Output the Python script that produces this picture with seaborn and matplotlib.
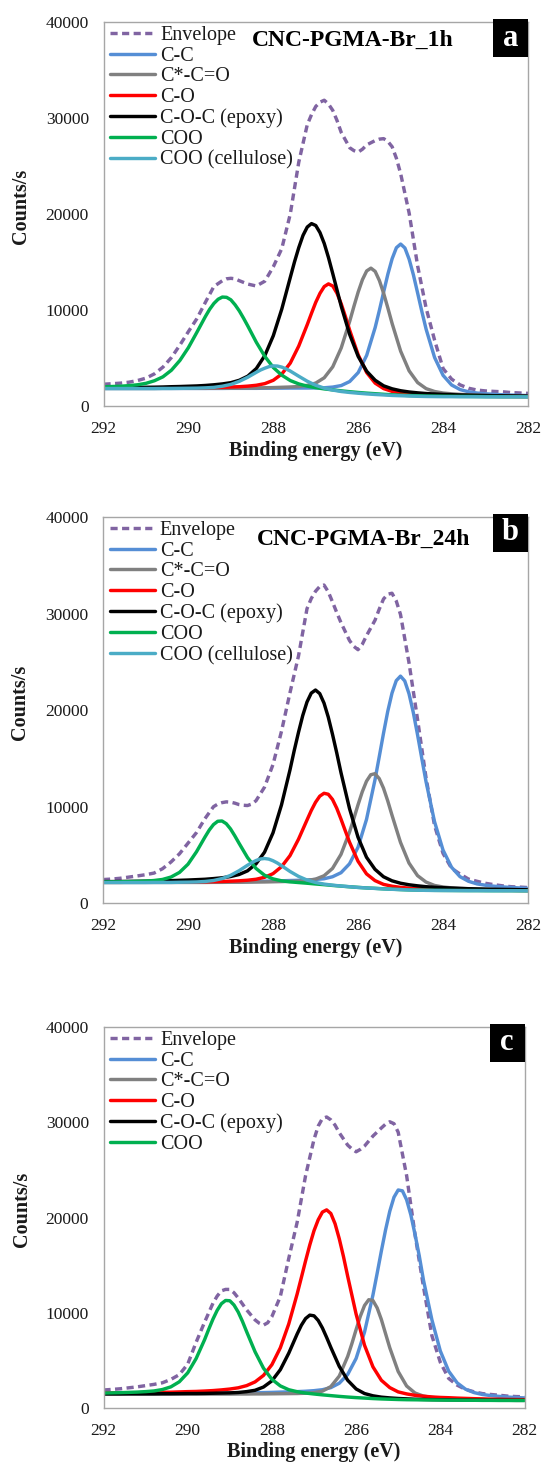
import matplotlib
matplotlib.use("Agg")
import matplotlib.pyplot as plt
from matplotlib.patches import Rectangle
import pandas as pd
import seaborn as sns

# ---------------- data (binding energy grid, eV) ----------------
ENERGY = [292.0, 291.8, 291.6, 291.4, 291.2, 291.0, 290.8, 290.6, 290.4, 290.2,
          290.0, 289.8, 289.6, 289.4, 289.2, 289.0, 288.8, 288.6, 288.4, 288.2,
          288.0, 287.8, 287.6, 287.4, 287.2, 287.0, 286.8, 286.6, 286.4, 286.2,
          286.0, 285.8, 285.6, 285.4, 285.2, 285.0, 284.8, 284.6, 284.4, 284.2,
          284.0, 283.8, 283.6, 283.4, 283.2, 283.0, 282.8, 282.6, 282.4, 282.2,
          282.0]

LABELS = ["Envelope", "C-C", "C*-C=O", "C-O", "C-O-C (epoxy)", "COO", "COO (cellulose)"]
X_TICKS = [292, 290, 288, 286, 284, 282]
Y_TICKS = [0, 10000, 20000, 30000, 40000]
TITLES = ["CNC-PGMA-Br_1h", "CNC-PGMA-Br_24h", ""]
LETTERS = ["a", "b", "c"]

# ---- panel a : CNC-PGMA-Br_1h ----
A_ENV = [2270, 2320, 2380, 2480, 2650, 2900, 3350, 4050, 5050, 6350,
         7750, 9100, 10800, 12450, 13050, 13300, 13050, 12700, 12500, 13000,
         14500, 16400, 20000, 25400, 29300, 31200, 31850, 30800, 28500, 26900,
         26450, 27200, 27650, 27850, 27000, 24200, 20100, 14600, 10200, 6850,
         3900, 2800, 2200, 1850, 1660, 1570, 1520, 1480, 1400, 1360, 1320]
A_CC = [1830, 1830, 1830, 1830, 1830, 1830, 1830, 1830, 1830, 1830,
        1830, 1830, 1830, 1830, 1830, 1840, 1840, 1840, 1840, 1850,
        1860, 1860, 1870, 1870, 1870, 1880, 1900, 1970, 2130, 2550,
        3480, 5280, 8180, 11890, 15350, 16870, 15290, 11770, 8000, 5050,
        3190, 2190, 1710, 1480, 1350, 1270, 1220, 1170, 1140, 1110, 1090]
A_CCO = [1830, 1830, 1830, 1830, 1830, 1830, 1830, 1840, 1840, 1840,
         1840, 1840, 1840, 1850, 1850, 1860, 1860, 1870, 1880, 1900,
         1920, 1950, 1980, 2030, 2150, 2390, 2940, 4080, 6050, 8830,
         11880, 14070, 14020, 11730, 8580, 5710, 3660, 2440, 1810, 1510,
         1350, 1270, 1210, 1170, 1130, 1100, 1080, 1060, 1040, 1030, 1020]
A_CO = [1850, 1850, 1850, 1850, 1850, 1860, 1860, 1870, 1870, 1880,
        1890, 1900, 1910, 1930, 1950, 1980, 2010, 2070, 2160, 2330,
        2680, 3330, 4470, 6250, 8480, 10800, 12440, 12500, 10640, 7880,
        5330, 3480, 2380, 1810, 1520, 1370, 1280, 1210, 1160, 1120,
        1090, 1070, 1050, 1040, 1020, 1010, 1000, 990, 990, 980, 980]
A_COC = [1910, 1920, 1920, 1930, 1940, 1950, 1960, 1980, 2010, 2030,
         2060, 2090, 2140, 2210, 2300, 2430, 2680, 3110, 3900, 5250,
         7320, 10100, 13390, 16500, 18640, 18800, 16930, 13800, 10390, 7440,
         5160, 3620, 2680, 2100, 1790, 1590, 1460, 1370, 1300, 1250,
         1210, 1180, 1150, 1130, 1110, 1090, 1070, 1060, 1050, 1040, 1030]
A_COO = [2000, 2030, 2060, 2120, 2210, 2360, 2630, 3040, 3730, 4750,
         6080, 7680, 9320, 10680, 11350, 11060, 9900, 8330, 6640, 5170,
         4010, 3210, 2650, 2300, 2070, 1910, 1780, 1680, 1580, 1490,
         1410, 1340, 1280, 1220, 1170, 1130, 1090, 1070, 1040, 1030,
         1020, 1010, 1000, 1000, 990, 980, 980, 970, 970, 970, 960]
A_COO_CELL = [1820, 1820, 1820, 1820, 1820, 1820, 1820, 1830, 1830, 1840,
              1850, 1860, 1890, 1940, 2060, 2250, 2570, 3000, 3510, 3940,
              4180, 4050, 3640, 3100, 2580, 2160, 1860, 1660, 1510, 1410,
              1330, 1260, 1200, 1150, 1100, 1070, 1040, 1010, 990, 980,
              970, 970, 965, 960, 960, 950, 950, 950, 950, 950, 940]
# extra readings taken at the odd tenths around each maximum
A_FINE = {
    "Envelope": ([289.1, 288.9, 287.1, 286.9, 286.7, 286.5, 286.1, 285.9, 285.5, 285.3, 285.1],
                 [13250, 13250, 30350, 31650, 31450, 29750, 26600, 26750, 27800, 27550, 25800]),
    "C-C": ([285.5, 285.3, 285.1, 284.9, 284.7, 284.5],
            [9980, 13750, 16490, 16460, 13670, 9830]),
    "C*-C=O": ([286.1, 285.9, 285.7, 285.5, 285.3],
               [10390, 13160, 14360, 13060, 10190]),
    "C-O": ([287.1, 286.9, 286.7, 286.5, 286.3],
            [9660, 11740, 12720, 11750, 9300]),
    "C-O-C (epoxy)": ([287.5, 287.3, 287.1, 286.9, 286.7],
                      [15020, 17770, 19000, 18060, 15460]),
    "COO": ([289.5, 289.3, 289.1, 288.9, 288.7],
            [10070, 11120, 11320, 10540, 9140]),
    "COO (cellulose)": ([288.3, 288.1, 287.9, 287.7],
                        [3750, 4100, 4160, 3870]),
}

# ---- panel b : CNC-PGMA-Br_24h ----
B_ENV = [2430, 2480, 2560, 2680, 2800, 2930, 3100, 3550, 4250, 5100,
         6200, 7300, 8750, 9980, 10400, 10450, 10200, 10100, 10600, 12000,
         14350, 17800, 21800, 25600, 30500, 32300, 32950, 31200, 29050, 27200,
         26250, 27700, 29300, 31500, 32100, 29900, 24900, 19060, 13000, 8050,
         5150, 3600, 3000, 2480, 2250, 2040, 1900, 1780, 1690, 1650, 1600]
B_CC = [2150, 2150, 2150, 2150, 2150, 2160, 2160, 2160, 2160, 2170,
        2170, 2180, 2180, 2190, 2190, 2200, 2210, 2220, 2240, 2260,
        2280, 2300, 2330, 2350, 2380, 2440, 2510, 2720, 3140, 4060,
        5770, 8660, 12770, 17580, 21750, 23510, 21690, 17460, 12590, 8440,
        5490, 3710, 2730, 2250, 1980, 1840, 1740, 1670, 1610, 1560, 1520]
B_CCO = [2130, 2130, 2130, 2130, 2130, 2130, 2130, 2130, 2130, 2130,
         2130, 2130, 2130, 2140, 2140, 2150, 2150, 2160, 2170, 2180,
         2200, 2220, 2240, 2270, 2330, 2470, 2820, 3580, 5040, 7340,
         10170, 12620, 13400, 11900, 9100, 6280, 4140, 2840, 2170, 1820,
         1660, 1570, 1520, 1480, 1440, 1420, 1400, 1380, 1360, 1350, 1340]
B_CO = [2140, 2140, 2140, 2150, 2150, 2150, 2150, 2160, 2160, 2170,
        2180, 2190, 2200, 2210, 2230, 2260, 2300, 2360, 2460, 2660,
        3040, 3760, 4910, 6610, 8600, 10430, 11370, 10730, 8690, 6310,
        4330, 3020, 2320, 1930, 1740, 1620, 1540, 1490, 1450, 1410,
        1390, 1370, 1360, 1350, 1340, 1330, 1320, 1310, 1310, 1300, 1290]
B_COC = [2220, 2220, 2230, 2240, 2250, 2260, 2280, 2300, 2320, 2350,
         2380, 2420, 2460, 2530, 2610, 2740, 2950, 3330, 4060, 5260,
         7270, 10170, 13800, 17690, 20830, 22070, 20720, 17480, 13500, 9790,
         6820, 4740, 3490, 2720, 2300, 2050, 1890, 1780, 1690, 1630,
         1590, 1550, 1510, 1480, 1460, 1440, 1420, 1410, 1400, 1380, 1370]
B_COO = [2180, 2190, 2200, 2220, 2240, 2270, 2330, 2440, 2690, 3170,
         4020, 5310, 6840, 8130, 8500, 7680, 6200, 4710, 3580, 2880,
         2500, 2300, 2190, 2120, 2050, 1970, 1900, 1820, 1750, 1680,
         1620, 1560, 1520, 1470, 1430, 1390, 1360, 1340, 1320, 1310,
         1300, 1300, 1290, 1290, 1290, 1280, 1280, 1280, 1280, 1270, 1270]
B_COO_CELL = [2120, 2120, 2120, 2120, 2120, 2120, 2130, 2130, 2130, 2150,
              2160, 2180, 2230, 2330, 2530, 2860, 3340, 3910, 4400, 4610,
              4380, 3870, 3270, 2760, 2380, 2130, 1960, 1850, 1760, 1690,
              1610, 1560, 1510, 1460, 1420, 1390, 1350, 1330, 1310, 1300,
              1300, 1290, 1290, 1280, 1280, 1280, 1270, 1270, 1270, 1270, 1260]
B_FINE = {
    "Envelope": ([289.3, 289.1, 288.9, 288.7, 288.5, 287.1, 286.9, 286.7, 286.5,
                  286.1, 285.9, 285.5, 285.3, 285.1],
                 [10250, 10480, 10350, 10130, 10250, 31550, 32800, 32250, 30100,
                  26600, 26800, 30450, 32000, 31300]),
    "C-C": ([285.5, 285.3, 285.1, 284.9, 284.7, 284.5],
            [15160, 19860, 23040, 23010, 19770, 15010]),
    "C*-C=O": ([286.1, 285.9, 285.7, 285.5, 285.3],
               [8720, 11520, 13290, 12890, 10580]),
    "C-O": ([287.1, 286.9, 286.7, 286.5, 286.3],
            [9580, 11070, 11270, 9820, 7490]),
    "C-O-C (epoxy)": ([287.5, 287.3, 287.1, 286.9, 286.7, 286.5],
                      [15810, 19430, 21750, 21700, 19270, 15550]),
    "COO": ([289.5, 289.3, 289.1, 288.9],
            [7560, 8470, 8220, 6970]),
    "COO (cellulose)": ([288.5, 288.3, 288.1, 287.9],
                        [4180, 4560, 4550, 4150]),
}

# ---- panel c ----
C_ENV = [1890, 1950, 2020, 2120, 2220, 2350, 2480, 2650, 3000, 3500,
         4600, 6900, 9000, 11000, 12300, 12450, 11550, 10300, 9250, 8700,
         9600, 11700, 15700, 19500, 24400, 28200, 30400, 30250, 28900, 27600,
         26900, 27500, 28550, 29400, 30050, 28950, 24400, 18200, 12740, 7600,
         4800, 3100, 2400, 1950, 1700, 1510, 1420, 1340, 1250, 1200, 1180]
C_CC = [1500, 1510, 1510, 1510, 1510, 1510, 1510, 1520, 1520, 1530,
        1530, 1530, 1540, 1540, 1550, 1560, 1570, 1590, 1600, 1620,
        1640, 1670, 1690, 1720, 1760, 1820, 1920, 2140, 2600, 3520,
        5200, 7970, 11860, 16480, 20660, 22890, 21860, 18220, 13430, 9270,
        5990, 3860, 2640, 1970, 1620, 1420, 1300, 1220, 1150, 1100, 1060]
C_CCO = [1470, 1470, 1470, 1470, 1460, 1460, 1460, 1460, 1460, 1460,
         1460, 1460, 1460, 1460, 1460, 1460, 1470, 1470, 1480, 1480,
         1490, 1500, 1510, 1520, 1550, 1610, 1770, 2250, 3350, 5410,
         8230, 10760, 11280, 9290, 6320, 3830, 2310, 1570, 1250, 1110,
         1030, 970, 940, 910, 890, 870, 860, 850, 830, 830, 820]
C_CO = [1570, 1580, 1580, 1590, 1600, 1620, 1630, 1650, 1660, 1690,
        1720, 1740, 1780, 1830, 1900, 1990, 2120, 2350, 2740, 3420,
        4550, 6320, 8820, 11970, 15450, 18610, 20570, 20420, 17770, 13830,
        9860, 6590, 4320, 2910, 2140, 1690, 1480, 1330, 1240, 1160,
        1110, 1080, 1040, 1010, 980, 960, 930, 920, 900, 890, 880]
C_COC = [1480, 1480, 1480, 1490, 1490, 1490, 1490, 1500, 1500, 1510,
         1520, 1520, 1530, 1550, 1570, 1590, 1630, 1720, 1860, 2200,
         2850, 4020, 5750, 7770, 9390, 9680, 8400, 6360, 4370, 2910,
         2000, 1520, 1280, 1140, 1060, 1000, 960, 920, 900, 880,
         870, 860, 850, 840, 830, 820, 820, 810, 810, 800, 800]
C_COO = [1570, 1590, 1610, 1640, 1670, 1720, 1790, 1940, 2220, 2750,
         3690, 5190, 7160, 9330, 10950, 11260, 10070, 8010, 5900, 4180,
         3010, 2320, 1920, 1710, 1570, 1470, 1380, 1300, 1220, 1150,
         1090, 1040, 990, 950, 920, 890, 870, 860, 850, 840,
         830, 820, 820, 810, 810, 800, 800, 790, 790, 790, 790]
C_FINE = {
    "Envelope": ([289.3, 289.1, 288.9, 288.3, 288.1, 286.9, 286.7, 286.5,
                  286.1, 285.9, 285.3, 285.1],
                 [11750, 12450, 12100, 8900, 8950, 29600, 30550, 29700,
                  27200, 27150, 29800, 29850]),
    "C-C": ([285.5, 285.3, 285.1, 284.9, 284.7, 284.5],
            [14140, 18700, 22130, 22800, 20280, 15980]),
    "C*-C=O": ([286.1, 285.9, 285.7, 285.5, 285.3],
               [6760, 9630, 11370, 10510, 7800]),
    "C-O": ([287.3, 287.1, 286.9, 286.7, 286.5, 286.3],
            [13700, 17120, 19760, 20800, 19350, 15900]),
    "C-O-C (epoxy)": ([287.5, 287.3, 287.1, 286.9, 286.7],
                      [6760, 8690, 9750, 9190, 7410]),
    "COO": ([289.5, 289.3, 289.1, 288.9, 288.7],
            [8270, 10250, 11290, 10810, 9100]),
}

COLORS = {
    "Envelope": "#8064A2",
    "C-C": "#558ED5",
    "C*-C=O": "#808080",
    "C-O": "#FF0000",
    "C-O-C (epoxy)": "#000000",
    "COO": "#00B050",
    "COO (cellulose)": "#4BACC6",
}

PANEL_SERIES = [
    [A_ENV, A_CC, A_CCO, A_CO, A_COC, A_COO, A_COO_CELL],
    [B_ENV, B_CC, B_CCO, B_CO, B_COC, B_COO, B_COO_CELL],
    [C_ENV, C_CC, C_CCO, C_CO, C_COC, C_COO],
]
PANEL_FINE = [A_FINE, B_FINE, C_FINE]

# ---------------- style ----------------
sns.set_style("white")
plt.rcParams["font.family"] = ["Liberation Serif", "DejaVu Serif"]
plt.rcParams["axes.unicode_minus"] = False

FIG_W, FIG_H = 542, 1465
fig = plt.figure(figsize=(FIG_W / 100, FIG_H / 100), dpi=100)

# axes rectangles in pixels: left, right, top, bottom
AX_PX = [(103.5, 528.0, 22, 406), (103.0, 528.0, 517, 903), (103.5, 524.5, 1027, 1408)]
TITLE_POS = [(0.587, 0.938), (0.613, 0.928), None]

SPINE = "#A6A6A6"
TXT = "#1a1a1a"
LW = 2.45

for i, (l, r, t, b) in enumerate(AX_PX):
    ax = fig.add_axes([l / FIG_W, 1 - b / FIG_H, (r - l) / FIG_W, (b - t) / FIG_H])
    series = PANEL_SERIES[i]
    fine = PANEL_FINE[i]
    for lab, vals in zip(LABELS, series):
        fe, fv = fine.get(lab, ([], []))
        df = pd.DataFrame({"energy": list(ENERGY) + list(fe),
                           "counts": list(vals) + list(fv)})
        df = df.sort_values("energy", ascending=False)
        kw = {}
        if lab == "Envelope":
            kw["linestyle"] = (0, (2.1, 1.3))
        sns.lineplot(data=df, x="energy", y="counts", ax=ax, color=COLORS[lab],
                     linewidth=LW, label=lab, sort=False, estimator=None, **kw)

    ax.set_xlim(292, 282)
    ax.set_ylim(0, 40000)
    ax.set_xticks(X_TICKS)
    ax.set_xticklabels([str(v) for v in X_TICKS])
    ax.set_yticks(Y_TICKS)
    ax.set_yticklabels([str(v) for v in Y_TICKS])
    for sp in ax.spines.values():
        sp.set_visible(True)
        sp.set_color(SPINE)
        sp.set_linewidth(1.0)
    ax.tick_params(axis="x", direction="out", length=4, width=1, color=SPINE,
                   labelsize=12.5, labelcolor=TXT, pad=7)
    ax.tick_params(axis="y", direction="in", length=4, width=1, color=SPINE,
                   labelsize=12.5, labelcolor=TXT, pad=10.5)
    ax.set_xlabel("Binding energy (eV)", fontsize=14.5, fontweight="bold", color=TXT)
    ax.set_ylabel("Counts/s", fontsize=14.5, fontweight="bold", color=TXT)
    ax.xaxis.set_label_coords(0.5, -0.09)
    ax.yaxis.set_label_coords(-0.171, 0.521)
    ax.grid(False)

    leg = ax.legend(loc="upper left", bbox_to_anchor=(0.0153, 0.990), frameon=False,
                    prop={"family": "Liberation Serif", "size": 14.5},
                    handlelength=2.24, handletextpad=0.25, labelspacing=0.08,
                    borderpad=0, borderaxespad=0)
    for txt in leg.get_texts():
        txt.set_color(TXT)

    if TITLES[i]:
        tx, ty = TITLE_POS[i]
        ax.text(tx, ty, TITLES[i], transform=ax.transAxes, ha="center", va="baseline",
                fontsize=17, fontweight="bold", color="black")

    # panel letter box
    w_px, h_px = 35.0, 38.0
    ax_w, ax_h = (r - l), (b - t)
    bx0 = 1 - w_px / ax_w
    by1 = 1 + 3.0 / ax_h
    by0 = by1 - h_px / ax_h
    ax.add_patch(Rectangle((bx0, by0), w_px / ax_w, h_px / ax_h, transform=ax.transAxes,
                           facecolor="black", edgecolor="none", clip_on=False, zorder=10))
    ax.text(bx0 + w_px / ax_w / 2, (by0 + by1) / 2, LETTERS[i], transform=ax.transAxes,
            ha="center", va="center", fontsize=22, fontweight="bold", color="white",
            zorder=11)

fig.savefig("out.png", dpi=100)
